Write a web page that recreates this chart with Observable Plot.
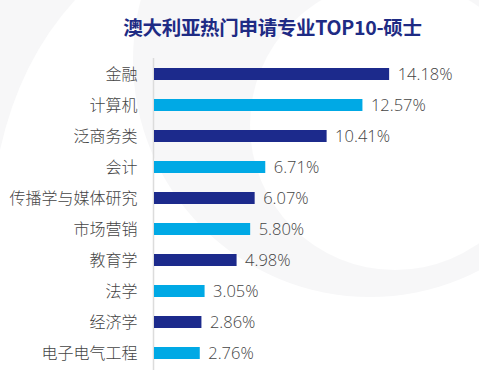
<!DOCTYPE html>
<html>
<head>
<meta charset="utf-8">
<script src="https://cdn.jsdelivr.net/npm/d3@7"></script>
<script src="https://cdn.jsdelivr.net/npm/@observablehq/plot@0.6"></script>
<style>
  html, body { margin: 0; padding: 0; background: #fff; }
  #wrap { position: relative; width: 479px; height: 380px; overflow: hidden; font-family: "Open Sans", "Noto Sans CJK SC", sans-serif; }
  #bg { position: absolute; left: 0; top: 0; }
  #title { position: absolute; left: 0; width: 479px; top: 12px; text-align: center; padding-left: 66px; box-sizing: border-box;
           font-family: "Noto Sans CJK SC", sans-serif; font-weight: 700; font-size: 19.5px; color: #1e2b84; letter-spacing: -0.3px; }
  #chart { position: absolute; left: 0; top: 0; }
  #chart svg { background: transparent !important; }
</style>
</head>
<body>
<div id="wrap">
  <svg id="bg" width="479" height="380">
    <defs>
      <mask id="ring">
        <rect width="479" height="380" fill="white"/>
        <circle cx="395" cy="125" r="145" fill="black"/>
      </mask>
    </defs>
    <circle cx="370" cy="60" r="237" fill="#f7f7f8" mask="url(#ring)"/>
    <path d="M0,150 Q20,60 75,0 L0,0 Z" fill="#f7f7f8"/>
  </svg>
  <div id="title">澳大利亚热门申请专业TOP10-硕士</div>
  <div id="chart"></div>
</div>
<script>
const categories = ["金融", "计算机", "泛商务类", "会计", "传播学与媒体研究", "市场营销", "教育学", "法学", "经济学", "电子电气工程"];
const values = [14.18, 12.57, 10.41, 6.71, 6.07, 5.80, 4.98, 3.05, 2.86, 2.76];
const labels = ["14.18%", "12.57%", "10.41%", "6.71%", "6.07%", "5.80%", "4.98%", "3.05%", "2.86%", "2.76%"];
const palette = ["#1c2a8c", "#00a9e5"];

const data = categories.map((c, i) => ({ cat: c, value: values[i], label: labels[i], color: palette[i % 2] }));

const chart = Plot.plot({
  width: 479,
  height: 380,
  marginLeft: 154,
  marginRight: 0,
  marginTop: 58,
  marginBottom: 10,
  style: { background: "transparent", fontFamily: "'Open Sans', 'Noto Sans CJK SC', sans-serif" },
  x: { domain: [0, 19.6], axis: null },
  y: { domain: categories, paddingInner: 0.61, paddingOuter: 0.305, label: null },
  marks: [
    Plot.ruleX([0], { stroke: "#dcdcdc", strokeWidth: 1.5, dx: -1 }),
    Plot.barX(data, { x: "value", y: "cat", fill: d => d.color }),
    Plot.text(data, { x: "value", y: "cat", text: "label", textAnchor: "start", dx: 8, fill: "#444", fontSize: 16.5, fontWeight: 300 }),
    Plot.axisY({ tickSize: 0, tickPadding: 17, fontSize: 16, color: "#444", label: null, fontWeight: 300, fontFamily: "'Noto Sans CJK SC', sans-serif" })
  ]
});
document.getElementById("chart").appendChild(chart);
</script>
</body>
</html>
